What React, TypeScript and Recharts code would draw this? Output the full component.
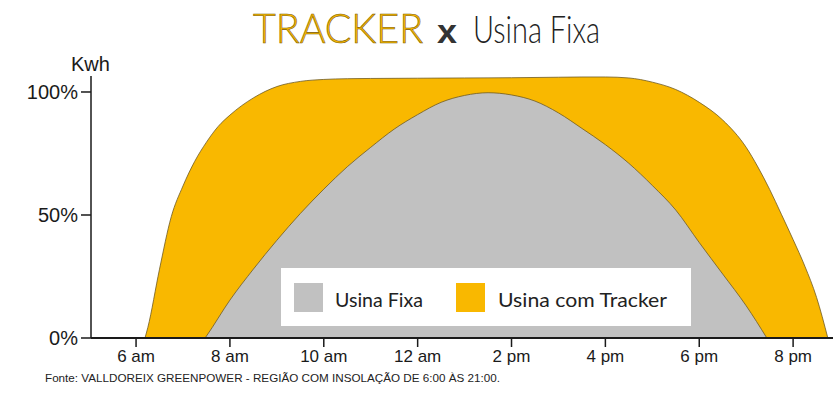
import React from "react";
import { AreaChart, Area, XAxis, YAxis } from "recharts";

// Hour of day (decimal) and relative energy (%)
const trackerHours = [6.19, 6.25, 6.5, 6.75, 7.0, 7.25, 7.5, 7.75, 8.0, 8.5, 9.0, 9.5, 10.0, 10.5, 11.0, 12.0, 13.0, 14.0, 15.0, 15.5, 16.0, 16.5, 17.0, 17.5, 18.0, 18.5, 19.0, 19.25, 19.5, 19.75, 20.0, 20.25, 20.5, 20.74];
const trackerValues = [0, 4.2, 28.0, 49.3, 61.8, 71.8, 79.6, 86.0, 90.6, 97.6, 102.2, 104.3, 105.1, 105.4, 105.5, 105.6, 105.7, 105.8, 106.0, 106.1, 106.1, 105.7, 104.0, 101.0, 95.8, 88.6, 77.5, 69.5, 60.4, 50.3, 40.0, 29.2, 16.5, 0];

const fixaHours = [7.47, 7.5, 8.0, 8.5, 9.0, 9.5, 10.0, 10.5, 11.0, 11.5, 12.0, 12.5, 13.0, 13.5, 14.0, 14.5, 15.0, 15.5, 16.0, 16.5, 17.0, 17.5, 18.0, 18.5, 19.0, 19.44];
const fixaValues = [0, 0.8, 15.4, 28.0, 39.7, 50.6, 60.5, 69.6, 77.5, 84.9, 90.8, 95.8, 98.6, 99.7, 98.8, 96.3, 91.5, 85.2, 78.6, 71.0, 62.0, 52.0, 38.8, 26.0, 13.1, 0];

const xTicks = [6, 8, 10, 12, 14, 16, 18, 20];
const xTickLabels = ["6 am", "8 am", "10 am", "12 am", "2 pm", "4 pm", "6 pm", "8 pm"];
const yTicks = [0, 50, 100];

const seriesNames = ["Usina Fixa", "Usina com Tracker"];
const seriesColors = ["#C1C1C1", "#F9B800"];

const trackerData = trackerHours.map((h, i) => ({ h, v: trackerValues[i] }));
const fixaData = fixaHours.map((h, i) => ({ h, v: fixaValues[i] }));

const axisFont = "'Liberation Sans', Arial, sans-serif";
const roundFont = "Lato, 'Open Sans', sans-serif";

export default function App() {
  return (
    <div style={{ position: "absolute", left: 0, top: 0, width: 833, height: 400, background: "#fff" }}>
      <AreaChart
        width={833}
        height={400}
        margin={{ top: 76, right: 0, left: 0, bottom: 32 }}
      >
        <XAxis
          dataKey="h"
          type="number"
          domain={[5.04, 20.85]}
          allowDataOverflow
          ticks={xTicks}
          tickFormatter={(v: number) => xTickLabels[xTicks.indexOf(v)] ?? ""}
          height={30}
          tickSize={9}
          tickMargin={3}
          axisLine={{ stroke: "#1a1a1a", strokeWidth: 2 }}
          tickLine={{ stroke: "#1a1a1a", strokeWidth: 1.5 }}
          tick={{ fill: "#1a1a1a", fontSize: 17, fontFamily: axisFont }}
        />
        <YAxis
          type="number"
          domain={[0, 106.5]}
          allowDataOverflow
          ticks={yTicks}
          tickFormatter={(v: number) => `${v}%`}
          width={91}
          tickSize={10}
          tickMargin={3}
          axisLine={{ stroke: "#1a1a1a", strokeWidth: 1.5 }}
          tickLine={{ stroke: "#1a1a1a", strokeWidth: 1.5 }}
          tick={{ fill: "#1a1a1a", fontSize: 20, fontFamily: axisFont }}
        />
        <Area
          data={trackerData}
          dataKey="v"
          name={seriesNames[1]}
          type="monotone"
          fill={seriesColors[1]}
          fillOpacity={1}
          stroke="#6e5a22"
          strokeWidth={0.8}
          isAnimationActive={false}
          dot={false}
          activeDot={false}
        />
        <Area
          data={fixaData}
          dataKey="v"
          name={seriesNames[0]}
          type="monotone"
          fill={seriesColors[0]}
          fillOpacity={1}
          stroke="#6e5a22"
          strokeWidth={0.8}
          isAnimationActive={false}
          dot={false}
          activeDot={false}
        />
      </AreaChart>
      <svg
        width={833}
        height={400}
        style={{ position: "absolute", left: 0, top: 0, pointerEvents: "none" }}
      >
        {/* Title */}
        <text x={253} y={43} fontSize={42} fontWeight={300} fontFamily={roundFont} fill="#F9B800" stroke="#7a5a00" strokeWidth={0.6} textLength={170} lengthAdjust="spacingAndGlyphs">TRACKER</text>
        <text x={437} y={43} fontSize={34} fontWeight="bold" fontFamily={axisFont} fill="#333" textLength={20} lengthAdjust="spacingAndGlyphs">x</text>
        <text x={473} y={43} fontSize={37} fontWeight={300} fontFamily={roundFont} fill="#222" textLength={127} lengthAdjust="spacingAndGlyphs">Usina Fixa</text>
        {/* Axis unit */}
        <text x={71} y={71} fontSize={20} fontFamily={axisFont} fill="#1a1a1a">Kwh</text>
        {/* Legend */}
        <rect x={281} y={268} width={410} height={58} fill="#fff" />
        <rect x={294} y={283} width={29} height={29} fill={seriesColors[0]} />
        <text x={335} y={307} fontSize={19} fontFamily={roundFont} fill="#222" textLength={88} lengthAdjust="spacingAndGlyphs">{seriesNames[0]}</text>
        <rect x={456} y={283} width={29} height={29} fill={seriesColors[1]} />
        <text x={498} y={307} fontSize={19} fontFamily={roundFont} fill="#222" textLength={169} lengthAdjust="spacingAndGlyphs">{seriesNames[1]}</text>
        {/* Source */}
        <text x={45} y={382} fontSize={11} fontFamily="'Liberation Sans Narrow', 'Liberation Sans', Arial, sans-serif" fill="#222" textLength={455} lengthAdjust="spacingAndGlyphs">Fonte: VALLDOREIX GREENPOWER - REGIÃO COM INSOLAÇÃO DE 6:00 ÀS 21:00.</text>
      </svg>
    </div>
  );
}
